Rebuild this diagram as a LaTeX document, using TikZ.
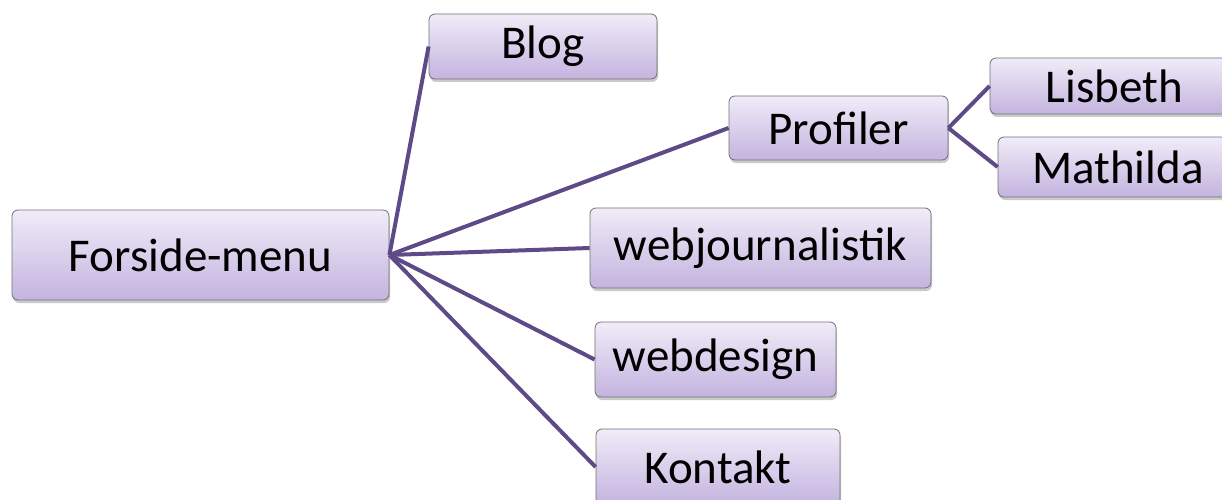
\documentclass[tikz,border=0pt]{standalone}
\usepackage{fontspec}
\setmainfont{Carlito}
\usetikzlibrary{shadows}
\definecolor{linec}{HTML}{5E4A86}
\definecolor{topc}{HTML}{F0ECF8}
\definecolor{botc}{HTML}{C4B3DF}
\definecolor{bordc}{HTML}{707070}
\tikzset{
  box/.style={draw=bordc, line width=0.8pt, rounded corners=6pt, top color=topc, bottom color=botc,
    inner sep=0pt, font=\fontsize{47}{54}\selectfont, text=black,
    drop shadow={shadow xshift=1pt, shadow yshift=-3pt, opacity=0.35, fill=black!60}},
  conn/.style={draw=linec, line width=4pt}
}
\begin{document}
\begin{tikzpicture}[x=1pt,y=1pt]
\useasboundingbox (0,0) rectangle (1222,499);
\clip (0,0) rectangle (1222,499);
\node[box, minimum width=377pt, minimum height=90pt] (fm) at (200.5,244) {Forside-menu};
\node[box, minimum width=228pt, minimum height=65pt] (blog) at (543,452.5) {Blog};
\node[box, minimum width=219pt, minimum height=64pt] (prof) at (838.5,371) {Profiler};
\node[box, minimum width=249pt, minimum height=56pt] (lis) at (1114.5,413) {Lisbeth};
\node[box, minimum width=240pt, minimum height=60pt] (mat) at (1118,332) {Mathilda};
\node[box, minimum width=341pt, minimum height=80pt] (wj) at (760.5,251) {webjournalis\kern0pt tik};
\node[box, minimum width=241pt, minimum height=75pt] (wd) at (715.5,139.5) {webdesign};
\node[box, minimum width=244pt, minimum height=76pt] (kon) at (718,32) {Kontakt};
\foreach \t in {blog,prof,wj,wd,kon} \draw[conn] (fm.east) -- (\t.west);
\draw[conn] (prof.east) -- (lis.west);
\draw[conn] (prof.east) -- (mat.west);
\end{tikzpicture}
\end{document}
